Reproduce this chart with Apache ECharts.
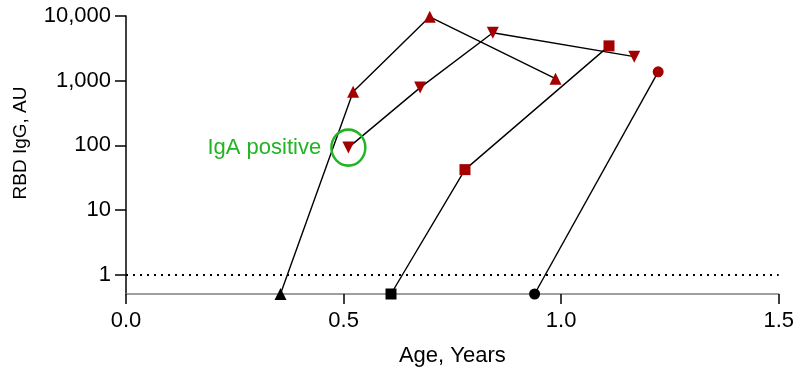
<!DOCTYPE html>
<html>
<head>
<meta charset="utf-8">
<script src="https://cdn.jsdelivr.net/npm/echarts@6/dist/echarts.min.js"></script>
<style>html,body{margin:0;padding:0;background:#fff}#c{width:797px;height:373px}</style>
</head>
<body>
<div id="c"></div>
<script>
// Data
var ageA = [0.355, 0.522, 0.698, 0.987];
var igA  = [0.5, 675, 9700, 1070];
var ageB = [0.511, 0.676, 0.843, 1.168];
var igB  = [92, 780, 5500, 2350];
var ageC = [0.609, 0.779, 1.110];
var igC  = [0.5, 42, 3450];
var ageD = [0.939, 1.223];
var igD  = [0.5, 1370];
var lod = 0.5;          // values plotted at the axis floor (negative)
var cutoff = 1;         // positivity threshold
var xTicks = [0, 0.5, 1.0, 1.5];
var yTicks = [1, 10, 100, 1000, 10000];
var annotation = 'IgA positive';

var RED = '#a50000', BLACK = '#000', GREEN = '#22b422';
var FONT = 'Liberation Sans, Arial, sans-serif';

function pts(xs, ys) {
  return xs.map(function (x, i) {
    return { value: [x, ys[i]], itemStyle: { color: ys[i] <= lod ? BLACK : RED } };
  });
}
function series(xs, ys, symbol, size, rot, extra) {
  var s = {
    type: 'line', data: pts(xs, ys), symbol: symbol, symbolSize: size,
    symbolRotate: rot || 0, showAllSymbol: true,
    lineStyle: { color: BLACK, width: 1.4 }, z: 3, animation: false
  };
  if (extra) for (var k in extra) s[k] = extra[k];
  return s;
}

var chart = echarts.init(document.getElementById('c'));
chart.setOption({
  animation: false,
  grid: { left: 126, right: 16, top: 16, bottom: 79 },
  xAxis: {
    type: 'value', min: 0, max: 1.5, interval: 0.5,
    axisLine: { show: true, lineStyle: { color: '#808080', width: 1.5 } },
    axisTick: { show: true, length: 10, lineStyle: { color: BLACK, width: 1.5 } },
    splitLine: { show: false },
    axisLabel: { color: '#000', fontFamily: FONT, fontSize: 22, margin: 16,
      formatter: function (v) { return v.toFixed(1); } },
    name: 'Age, Years', nameLocation: 'middle', nameGap: 51,
    nameTextStyle: { color: '#000', fontFamily: FONT, fontSize: 22 }
  },
  yAxis: {
    type: 'log', logBase: 10, min: lod, max: 10000,
    axisLine: { show: true, onZero: false, lineStyle: { color: BLACK, width: 1.5 } },
    axisTick: { show: true, length: 11, lineStyle: { color: BLACK, width: 1.5 } },
    splitLine: { show: false },
    axisLabel: { color: '#000', fontFamily: FONT, fontSize: 22, margin: 15, showMinLabel: false,
      formatter: function (v) {
        if (yTicks.indexOf(Math.round(v)) < 0 || v < 1) return '';
        return Math.round(v).toLocaleString('en-US');
      } }
  },
  graphic: [{
    type: 'text', x: 21, y: 143, rotation: Math.PI / 2,
    style: { text: 'RBD IgG, AU', fill: '#000', font: '19px ' + FONT,
      textAlign: 'center', textVerticalAlign: 'middle' }
  }],
  series: [
    series(ageA, igA, 'triangle', 12, 0, {
      markLine: {
        silent: true, symbol: 'none', label: { show: false },
        lineStyle: { color: BLACK, type: [2, 5], width: 2.2 },
        data: [{ yAxis: cutoff }]
      }
    }),
    series(ageB, igB, 'triangle', 12, 180, {
      markPoint: {
        silent: true,
        data: [{
          coord: [ageB[0], igB[0]], symbol: 'circle', symbolSize: [34, 36], symbolRotate: 0,
          itemStyle: { color: 'rgba(0,0,0,0)', borderColor: GREEN, borderWidth: 2.5 },
          label: { show: true, position: 'left', distance: 9, formatter: annotation,
            color: GREEN, fontFamily: FONT, fontSize: 22 }
        }]
      }
    }),
    series(ageC, igC, 'rect', 11),
    series(ageD, igD, 'circle', 11)
  ]
});
</script>
</body>
</html>
